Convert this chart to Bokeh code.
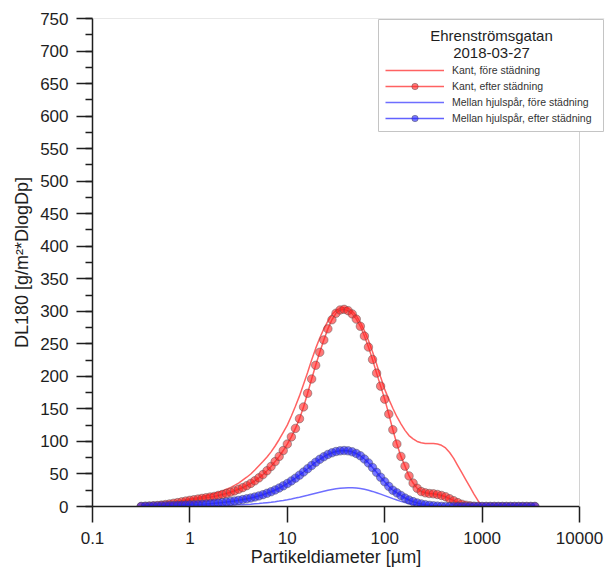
from bokeh.plotting import figure
from bokeh.models import (Range1d, FixedTicker, SingleIntervalTicker, NumeralTickFormatter,
                          Legend, LegendItem, Label, BoxAnnotation, ColumnDataSource, Span)
from bokeh.embed import file_html
from bokeh.resources import INLINE

# ---- data ----
diameter_um = [
    0.3162, 0.3481, 0.3831, 0.4217, 0.4642, 0.5109, 0.5623, 0.6190, 0.6813, 0.7499, 0.8254, 0.9085,
    1.000, 1.101, 1.212, 1.334, 1.468, 1.616, 1.778, 1.957, 2.154, 2.371, 2.610, 2.873,
    3.162, 3.481, 3.831, 4.217, 4.642, 5.109, 5.623, 6.190, 6.813, 7.499, 8.254, 9.085,
    10.00, 11.01, 12.12, 13.34, 14.68, 16.16, 17.78, 19.57, 21.54, 23.71, 26.10, 28.73,
    31.62, 34.81, 38.31, 42.17, 46.42, 51.09, 56.23, 61.90, 68.13, 74.99, 82.54, 90.85,
    100.0, 110.1, 121.2, 133.4, 146.8, 161.6, 177.8, 195.7, 215.4, 237.1, 261.0, 287.3,
    316.2, 348.1, 383.1, 421.7, 464.2, 510.9, 562.3, 619.0, 681.3, 749.9, 825.4, 908.5,
    1000, 1101, 1212, 1334, 1468, 1616, 1778, 1957, 2154, 2371, 2610, 2873,
    3162, 3481,
]

kant_fore = [
    0.5, 1, 1.5, 2.2, 3, 3.6, 4.5, 5.3, 6.2, 7.2, 8.5, 10,
    11.5, 12.5, 13.5, 15, 16.5, 18, 20, 22, 24, 26.5, 29, 32.5,
    36, 40.5, 45, 50, 56, 62.5, 69, 76, 84, 93, 103, 114,
    125, 139, 154, 170, 188, 206, 225, 243, 259, 273, 285, 295,
    301, 305, 306, 305, 300, 293, 283, 270, 255, 238, 219, 199,
    180, 165, 151, 138, 127, 117, 109, 104, 100, 98, 97, 97,
    97, 96, 94, 90, 83, 74, 63, 52, 41, 30, 19, 9,
    0, 0, 0, 0, 0, 0, 0, 0, 0, 0, 0, 0,
    0, 0,
]

kant_efter = [
    0, 0.3, 0.6, 1, 1.5, 2.2, 3, 4, 5, 6, 7.2, 8.4,
    9.5, 10.5, 11.5, 12.5, 13.5, 14.5, 15.5, 17, 18.5, 20, 22, 24,
    26.5, 29, 32, 35.5, 39.5, 44, 49, 55, 61.5, 69, 77, 86,
    96, 107, 120, 135, 153, 174, 196, 217, 237, 256, 273, 287,
    297, 302, 303, 301, 296, 288, 277, 262, 245, 226, 205, 185,
    165, 142, 118, 96, 77, 62, 47, 36, 28, 23, 21, 20,
    19.5, 18.5, 17, 15, 12, 9, 6, 3.5, 2, 1, 0.4, 0.1,
    0, 0, 0, 0, 0, 0, 0, 0, 0, 0, 0, 0,
    0, 0,
]

mellan_fore = [
    0, 0, 0, 0, 0, 0, 0, 0, 0, 0.1, 0.2, 0.3,
    0.4, 0.5, 0.6, 0.7, 0.8, 0.95, 1.1, 1.3, 1.5, 1.7, 1.9, 2.2,
    2.5, 2.8, 3.2, 3.6, 4.1, 4.6, 5.2, 5.9, 6.6, 7.4, 8.3, 9.3,
    10.4, 11.6, 12.9, 14.3, 15.8, 17.3, 18.9, 20.5, 22, 23.5, 25, 26.2,
    27.2, 28, 28.6, 28.9, 28.9, 28.5, 27.7, 26.5, 25, 23.2, 21.2, 19,
    16.7, 14.4, 12.1, 9.9, 7.9, 6.1, 4.5, 3.2, 2.1, 1.3, 0.7, 0.3,
    0.1, 0, 0, 0, 0, 0, 0, 0, 0, 0, 0, 0,
    0, 0, 0, 0, 0, 0, 0, 0, 0, 0, 0, 0,
    0, 0,
]

mellan_efter = [
    0, 0.2, 0.4, 0.6, 0.8, 1, 1.2, 1.4, 1.6, 1.8, 2, 2.2,
    2.5, 2.8, 3.1, 3.5, 3.9, 4.4, 4.9, 5.5, 6.1, 6.8, 7.6, 8.5,
    9.5, 10.6, 11.8, 13.1, 14.6, 16.3, 18.2, 20.3, 22.7, 25.4, 28.4, 31.7,
    35.3, 39.3, 43.6, 48.2, 53, 58, 63, 68, 72.5, 76.5, 80, 82.5,
    84.5, 85.5, 86, 85.5, 84, 81.5, 78, 73, 67, 60, 52.5, 45,
    38, 31, 25, 21, 17, 13, 10, 7.5, 5.5, 4, 2.8, 1.8,
    1.1, 0.6, 0.3, 0.1, 0, 0, 0, 0, 0, 0, 0, 0,
    0, 0, 0, 0, 0, 0, 0, 0, 0, 0, 0, 0,
    0, 0,
]

series_labels = ["Kant, före städning", "Kant, efter städning",
                 "Mellan hjulspår, före städning", "Mellan hjulspår, efter städning"]
x_ticks = [0.1, 1, 10, 100, 1000, 10000]
legend_title = ["Ehrenströmsgatan", "2018-03-27"]

for s in (kant_fore, kant_efter, mellan_fore, mellan_efter):
    assert len(s) == len(diameter_um), len(s)

src = ColumnDataSource(dict(x=diameter_um, kf=kant_fore, ke=kant_efter,
                            mf=mellan_fore, me=mellan_efter))

FONT = "Liberation Sans"
TXT = "#1e1e1e"

# frame spans 92..604 px; axis itself is bounded to 0.1..10000 (92..579 px)
p = figure(width=606, height=571, x_axis_type="log",
           x_range=Range1d(0.1, 18060), y_range=Range1d(0, 750),
           output_backend="svg", toolbar_location=None,
           min_border_left=92, min_border_right=2, min_border_top=18, min_border_bottom=65)
p.xgrid.visible = False
p.ygrid.visible = False
p.outline_line_color = None
p.background_fill_color = "white"
p.border_fill_color = "white"

FRAME = "#d2d2d2"
p.add_layout(Span(location=750, dimension="width", line_color=FRAME, line_width=1))
p.add_layout(Span(location=x_ticks[-1], dimension="height", line_color=FRAME, line_width=1))

RED = "#ff2020"
BLUE = "#2020ff"

r1 = p.line("x", "kf", source=src, line_color=RED, line_alpha=0.7, line_width=1.5)
r2l = p.line("x", "ke", source=src, line_color=RED, line_alpha=0.7, line_width=1.5)
r2s = p.scatter("x", "ke", source=src, marker="circle", size=8.5, fill_color=RED, fill_alpha=0.6,
                line_color="#505050", line_alpha=0.45, line_width=1)
r3 = p.line("x", "mf", source=src, line_color=BLUE, line_alpha=0.65, line_width=1.5)
r4l = p.line("x", "me", source=src, line_color=BLUE, line_alpha=0.7, line_width=1.5)
r4s = p.scatter("x", "me", source=src, marker="circle", size=8.5, fill_color=BLUE, fill_alpha=0.6,
                line_color="#505050", line_alpha=0.45, line_width=1)

# x axis
xa = p.xaxis[0]
xa.bounds = (x_ticks[0], x_ticks[-1])
xa.ticker = FixedTicker(ticks=x_ticks, minor_ticks=[])
xa.formatter = NumeralTickFormatter(format="0.[0]")
xa.major_tick_out = 16
xa.major_tick_in = 0
xa.minor_tick_out = 0
xa.minor_tick_in = 0
xa.axis_line_width = 1.5
xa.axis_line_color = TXT
xa.major_tick_line_width = 1.5
xa.major_tick_line_color = TXT
xa.major_label_standoff = 9
xa.major_label_text_font = FONT
xa.major_label_text_font_size = "17px"
xa.major_label_text_color = TXT
# trailing no-break spaces shift the centred label onto the 0.1..10000 span
xa.axis_label = "Partikeldiameter [µm]" + "\u00a0" * 5
xa.axis_label_text_font = FONT
xa.axis_label_text_font_size = "18px"
xa.axis_label_text_font_style = "normal"
xa.axis_label_text_color = TXT
xa.axis_label_standoff = 0

# y axis
ya = p.yaxis[0]
ya.ticker = SingleIntervalTicker(interval=50, num_minor_ticks=2)
ya.major_tick_out = 16
ya.major_tick_in = 0
ya.minor_tick_out = 7
ya.minor_tick_in = 0
ya.axis_line_width = 1.5
ya.axis_line_color = TXT
ya.major_tick_line_width = 1.5
ya.major_tick_line_color = TXT
ya.minor_tick_line_width = 1.5
ya.minor_tick_line_color = TXT
ya.major_label_standoff = 8
ya.major_label_text_font = FONT
ya.major_label_text_font_size = "17px"
ya.major_label_text_color = TXT
ya.axis_label = "DL180 [g/m²*DlogDp]"
ya.axis_label_text_font = FONT
ya.axis_label_text_font_size = "18px"
ya.axis_label_text_font_style = "normal"
ya.axis_label_text_color = TXT
ya.axis_label_standoff = 5

# legend frame + title (screen units relative to the frame's bottom-left)
p.add_layout(BoxAnnotation(left=286, right=511, top=487, bottom=375,
                           left_units="screen", right_units="screen",
                           top_units="screen", bottom_units="screen",
                           fill_color="white", fill_alpha=1.0,
                           line_color="#c4c4c4", line_width=1, line_alpha=1.0))
p.add_layout(Label(x=399, y=471, x_units="screen", y_units="screen", text=legend_title[0],
                   text_align="center", text_baseline="middle", text_font=FONT,
                   text_font_size="15px", text_color=TXT))
p.add_layout(Label(x=399, y=454, x_units="screen", y_units="screen", text=legend_title[1],
                   text_align="center", text_baseline="middle", text_font=FONT,
                   text_font_size="15px", text_color=TXT))

legend = Legend(items=[
    LegendItem(label=series_labels[0], renderers=[r1]),
    LegendItem(label=series_labels[1], renderers=[r2l, r2s]),
    LegendItem(label=series_labels[2], renderers=[r3]),
    LegendItem(label=series_labels[3], renderers=[r4l, r4s]),
], location=(293, 380), glyph_width=59, glyph_height=16, label_height=16,
    label_standoff=8, spacing=0, padding=0, margin=0,
    border_line_alpha=0, background_fill_alpha=0,
    label_text_font=FONT, label_text_font_size="10.5px", label_text_color="#333333")
p.add_layout(legend)

open("out.html", "w").write(file_html(p, INLINE))
